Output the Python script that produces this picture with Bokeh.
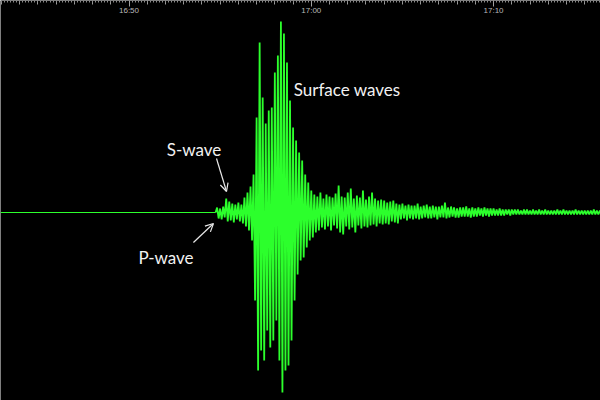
from bokeh.plotting import figure
from bokeh.models import Range1d, LinearAxis, FixedTicker, Label, Arrow, OpenHead
from bokeh.embed import file_html
from bokeh.resources import INLINE


def to_min(hms):
    h, m, s = (int(v) for v in hms.split(":"))
    return h * 60 + m + s / 60.0


# ---- data -------------------------------------------------------------
record_start = "16:42:57"
record_end = "17:15:52"
p_arrival = "16:54:45"      # trace is flat until here
sample_sec = 5              # sampling interval of the trace after onset

# trace amplitudes (arbitrary counts), one value every 5 s from the P onset
amplitudes = [
    0,
    5, -6, 4, -7, 6, -5, 14, -9, 11, -8,
    9, -10, 8, -7, 10, -9, 8, -11, 15, -14,
    20, -18, 26, -28, 38, -88, 95, -158, 170, -138,
    115, -148, 89, -118, 102, -135, 105, -128, 140, -108,
    157, -148, 191, -180, 179, -158, 150, -153, 112, -128,
    85, -88, 72, -62, 60, -48, 52, -45, 38, -35,
    30, -28, 22, -25, 18, -20, 16, -18, 20, -15,
    14, -17, 18, -14, 16, -18, 15, -13, 19, -16,
    27, -20, 16, -22, 15, -14, 20, -17, 24, -15,
    14, -20, 17, -13, 15, -16, 22, -14, 13, -15,
    16, -13, 20, -12, 14, -14, 12, -11, 13, -12,
    12, -11, 10, -12, 11, -9, 12, -10, 9, -11,
    8, -7, 9, -6, 7, -8, 8, -6, 7, -7,
    7, -6, 9, -7, 6, -6, 7, -5, 8, -6,
    6, -6, 7, -5, 6, -7, 6, -5, 7, -5,
    10, -6, 5, -5, 6, -4, 5, -5, 4, -5,
    5, -4, 5, -4, 6, -4, 4, -5, 5, -4,
    4, -4, 5, -3, 4, -4, 5, -3, 4, -4,
    4, -3, 4, -3, 3, -3, 4, -3, 3, -3,
    3, -2, 3, -3, 3, -2, 3, -2, 3, -2,
    2, -2, 3, -2, 3, -2, 2, -2, 3, -2,
    2, -2, 3, -2, 2, -2, 3, -2, 2, -2,
    2, -2, 2, -2, 3, -2, 2, -2, 3, -2,
    2, -2, 2, -2, 2, -2, 3, -2, 2, -2,
    2, -2, 2, -2, 2, -2, 2, -2, 3, -2,
    2, -2, 2, -2,
]

major_tick_times = ["16:50:00", "17:00:00", "17:10:00"]
major_tick_labels = ["16:50", "17:00", "17:10"]

# annotations: (text, time, amplitude)
notes = [
    ("Surface waves", "16:59:02", 134),
    ("S-wave", "16:52:04", 74),
    ("P-wave", "16:50:31", -34),
]
# arrows: (start time, start amp, end time, end amp)
arrows = [
    ("16:54:48", 54, "16:55:21", 21),
    ("16:53:32", -30, "16:54:38", -11),
]

# ---- build ------------------------------------------------------------
t0 = to_min(record_start)
t1 = to_min(record_end)
tp = to_min(p_arrival)

times = [tp + i * sample_sec / 60.0 for i in range(len(amplitudes))]

p = figure(width=600, height=400, output_backend="svg", toolbar_location=None,
           x_range=Range1d(t0, t1), y_range=Range1d(-188, 212),
           x_axis_location=None, y_axis_location=None,
           background_fill_color="black", border_fill_color="black",
           outline_line_color=None, min_border=0)
p.grid.visible = False

# quiet part of the record before the P onset
p.line([t0, tp], [0, 0], line_color="#2cff2c", line_width=1)
# the event
p.line(times, amplitudes, line_color="#2cff2c", line_width=1.8)

# ticks hanging from the top edge
top = p.y_range.end
minute_ticks = list(range(int(t0) + 1, int(t1) + 1))
ten_sec_ticks = [int(t0) + k / 6.0 for k in range(int((t1 - int(t0)) * 6) + 1)]

ax_fine = LinearAxis(ticker=FixedTicker(ticks=minute_ticks, minor_ticks=ten_sec_ticks),
                     fixed_location=top, axis_line_color=None,
                     major_tick_in=0, major_tick_out=4, minor_tick_in=0, minor_tick_out=2,
                     major_tick_line_color="#9a9a9a", minor_tick_line_color="#8a8a8a",
                     major_label_text_color=None, major_label_text_font_size="1px")
p.add_layout(ax_fine, "below")

label_ticks = [to_min(t) for t in major_tick_times]
ax_main = LinearAxis(ticker=FixedTicker(ticks=label_ticks, minor_ticks=[]),
                     fixed_location=top, axis_line_color=None,
                     major_tick_in=0, major_tick_out=6, minor_tick_in=0, minor_tick_out=0,
                     major_tick_line_color="#a0a0a0",
                     major_label_overrides=dict(zip(label_ticks, major_tick_labels)),
                     major_label_standoff=-1,
                     major_label_text_color="#b8b8b8",
                     major_label_text_font="Liberation Sans",
                     major_label_text_font_size="8px")
p.add_layout(ax_main, "below")

for text, t, a in notes:
    p.add_layout(Label(x=to_min(t), y=a, text=text, text_color="#f2f2f2",
                       text_font="Lato", text_font_size="17px",
                       text_baseline="top", text_align="left"))

for ts, a0, te, a1 in arrows:
    p.add_layout(Arrow(x_start=to_min(ts), y_start=a0, x_end=to_min(te), y_end=a1,
                       line_color="#e8e8e8", line_width=1.2,
                       end=OpenHead(size=8, line_color="#e8e8e8", line_width=1.2)))

open("out.html", "w").write(file_html(p, INLINE))
